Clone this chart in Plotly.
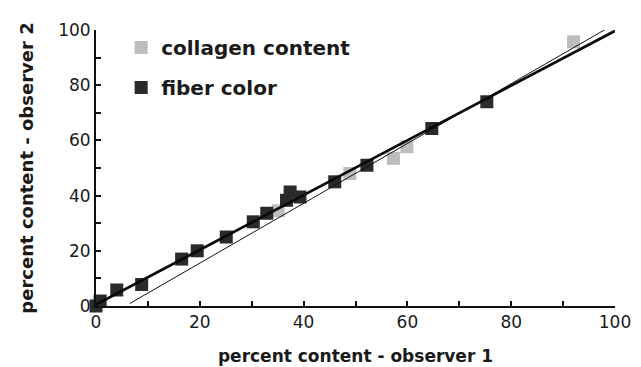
import plotly.graph_objects as go

# Data
collagen_x = [35.1, 48.9, 57.3, 59.9, 92.0]
collagen_y = [34.5, 48.0, 53.5, 57.7, 95.7]

fiber_x = [0.0, 0.8, 4.0, 8.8, 16.5, 19.5, 25.1, 30.3, 32.9, 36.7, 37.4, 39.3, 46.0, 52.2, 64.7, 75.3]
fiber_y = [0.0, 1.8, 5.8, 7.8, 17.0, 20.0, 25.0, 30.5, 33.6, 38.3, 41.3, 39.5, 45.0, 51.0, 64.3, 74.0]

# regression line endpoints
fit_fiber_x = [0.0, 100.0]
fit_fiber_y = [0.5, 99.7]
fit_collagen_x = [6.5, 98.3]
fit_collagen_y = [0.9, 100.4]

legend_names = ["collagen content", "fiber color"]

fig = go.Figure()

fig.add_trace(go.Scatter(
    x=collagen_x, y=collagen_y, mode="markers", name=legend_names[0],
    marker=dict(symbol="square", size=13, color="#bdbdbd"),
    legendgroup="a", cliponaxis=False))
fig.add_trace(go.Scatter(
    x=fiber_x, y=fiber_y, mode="markers", name=legend_names[1],
    marker=dict(symbol="square", size=13, color="#2a2a2a"),
    legendgroup="b", cliponaxis=False))
fig.add_trace(go.Scatter(
    x=fit_fiber_x, y=fit_fiber_y, mode="lines", showlegend=False,
    line=dict(color="#0a0a0a", width=2.8), cliponaxis=False))
fig.add_trace(go.Scatter(
    x=fit_collagen_x, y=fit_collagen_y, mode="lines", showlegend=False,
    line=dict(color="#111111", width=1), cliponaxis=False))

axis_common = dict(
    range=[0, 100], dtick=20, ticks="inside", ticklen=5, tickwidth=1.5,
    tickcolor="#111", showline=True, linewidth=2, linecolor="#111",
    showgrid=False, zeroline=False, automargin=False,
    tickfont=dict(family="DejaVu Sans", size=17, color="#1a1a1a"),
    minor=dict(dtick=10, ticks="inside", ticklen=5, tickwidth=1.5, tickcolor="#111", showgrid=False),
)

fig.update_layout(
    width=641, height=367,
    margin=dict(l=88, r=34, t=22, b=69),
    paper_bgcolor="white", plot_bgcolor="white",
    xaxis=dict(**axis_common,
               title=dict(text="percent content - observer 1",
                          font=dict(family="DejaVu Sans", size=17, color="#1a1a1a", weight="bold"),
                          standoff=19)),
    yaxis=dict(**axis_common,
               title=dict(text="percent content - observer 2",
                          font=dict(family="DejaVu Sans", size=18, color="#1a1a1a", weight="bold"),
                          standoff=20)),
    showlegend=True,
    legend=dict(x=0.0485, y=1.007, xanchor="left", yanchor="top",
                font=dict(family="DejaVu Sans", size=20, color="#1a1a1a", weight="bold"),
                bgcolor="rgba(0,0,0,0)", traceorder="grouped", tracegroupgap=11),
)

fig.write_html("out.html")
